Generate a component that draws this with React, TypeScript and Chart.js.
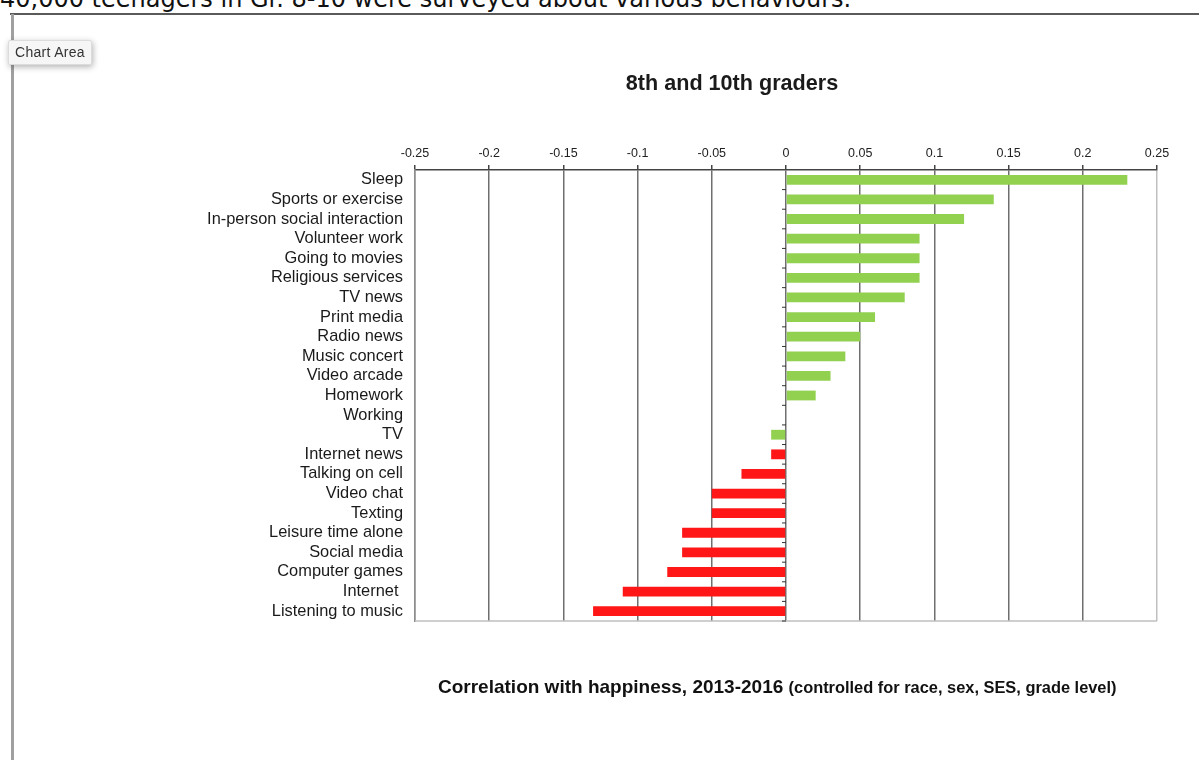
import { useEffect, useRef } from "react";
import { Chart, registerables, type Plugin } from "chart.js";

Chart.register(...registerables);

const activities = [
  "Sleep",
  "Sports or exercise",
  "In-person social interaction",
  "Volunteer work",
  "Going to movies",
  "Religious services",
  "TV news",
  "Print media",
  "Radio news",
  "Music concert",
  "Video arcade",
  "Homework",
  "Working",
  "TV",
  "Internet news",
  "Talking on cell",
  "Video chat",
  "Texting",
  "Leisure time alone",
  "Social media",
  "Computer games",
  "Internet ",
  "Listening to music",
];

const correlations = [
  0.23, 0.14, 0.12, 0.09, 0.09, 0.09, 0.08, 0.06, 0.05, 0.04, 0.03, 0.02, 0,
  -0.01, -0.01, -0.03, -0.05, -0.05, -0.07, -0.07, -0.08, -0.11, -0.13,
];

const xTickValues = [-0.25, -0.2, -0.15, -0.1, -0.05, 0, 0.05, 0.1, 0.15, 0.2, 0.25];

const chartTitle = "8th and 10th graders";
const footerMain = "Correlation with happiness, 2013-2016";
const footerNote = "(controlled for race, sex, SES, grade level)";
const pageText = "40,000 teenagers in Gr. 8-10 were surveyed about various behaviours.";

// bars up to and including "TV" are green, the rest red
const firstRedIndex = activities.indexOf("Internet news");
const GREEN = "#92d050";
const RED = "#ff1616";
const FONT = "'Liberation Sans', Arial, sans-serif";

const framePlugin: Plugin<"bar"> = {
  id: "frameAndFooter",
  afterDraw(chart) {
    const { ctx, chartArea, scales } = chart;
    const xs = scales.x;
    const ys = scales.y;
    ctx.save();

    // bottom edge of the plot
    ctx.strokeStyle = "#bfbfbf";
    ctx.lineWidth = 1.5;
    ctx.beginPath();
    ctx.moveTo(chartArea.left, chartArea.bottom);
    ctx.lineTo(chartArea.right, chartArea.bottom);
    ctx.stroke();

    // small category ticks on the zero line
    const x0 = xs.getPixelForValue(0);
    ctx.strokeStyle = "#333";
    ctx.lineWidth = 1;
    ctx.beginPath();
    for (let i = 1; i < activities.length; i++) {
      const yy = (ys.getPixelForValue(i - 1) + ys.getPixelForValue(i)) / 2;
      ctx.moveTo(x0 - 4, yy);
      ctx.lineTo(x0, yy);
    }
    ctx.moveTo(x0 - 4, chartArea.bottom);
    ctx.lineTo(x0, chartArea.bottom);
    ctx.stroke();

    // title, a little left of the plot centre as in the original
    ctx.fillStyle = "#1a1a1a";
    ctx.textAlign = "center";
    ctx.textBaseline = "alphabetic";
    ctx.font = `bold 21.6px ${FONT}`;
    ctx.fillText(chartTitle, 732, 90);

    // footer caption
    ctx.fillStyle = "#111";
    ctx.textAlign = "left";
    ctx.font = `bold 19px ${FONT}`;
    const fx = 438;
    const fy = 693;
    ctx.fillText(footerMain, fx, fy);
    const w = ctx.measureText(footerMain + " ").width;
    ctx.font = `bold 16.4px ${FONT}`;
    ctx.fillText(footerNote, fx + w, fy);

    ctx.restore();
  },
};

const CorrelationChart = () => {
  const canvasRef = useRef<HTMLCanvasElement>(null);
  const chartInstance = useRef<Chart<"bar">>();

  useEffect(() => {
    if (!canvasRef.current) return;
    const ctx = canvasRef.current.getContext("2d");
    if (!ctx) return;

    if (chartInstance.current) {
      chartInstance.current.destroy();
    }

    const colors = correlations.map((_, i) => (i < firstRedIndex ? GREEN : RED));

    chartInstance.current = new Chart(ctx, {
      type: "bar",
      data: {
        labels: activities,
        datasets: [
          {
            data: correlations,
            backgroundColor: colors,
            borderWidth: 0,
            categoryPercentage: 1,
            barPercentage: 0.5,
          },
        ],
      },
      options: {
        indexAxis: "y",
        responsive: false,
        animation: false,
        events: [],
        layout: { padding: { left: 0, right: 42, top: 140, bottom: 139 } },
        plugins: {
          legend: { display: false },
          tooltip: { enabled: false },
          title: { display: false },
        },
        scales: {
          x: {
            position: "top",
            min: -0.25,
            max: 0.25,
            afterBuildTicks: (scale) => {
              scale.ticks = xTickValues.map((v) => ({ value: v }));
            },
            afterFit: (scale) => {
              scale.height = 30;
            },
            ticks: {
              color: "#222",
              font: { family: FONT, size: 12.5 },
              padding: 4,
              maxRotation: 0,
              callback: (v) => String(Math.round(Number(v) * 100) / 100),
            },
            grid: {
              color: (c) =>
                c.tick && c.tick.value === 0.25
                  ? "#c0c0c0"
                  : c.tick && c.tick.value === -0.25
                    ? "#8c8c8c"
                    : "#6f6f6f",
              lineWidth: 1.5,
              tickLength: 5,
              tickColor: "#444",
            },
            border: { display: true, color: "#444", width: 1.5 },
          },
          y: {
            afterFit: (scale) => {
              scale.width = 415;
            },
            ticks: {
              autoSkip: false,
              color: "#1a1a1a",
              font: { family: FONT, size: 16.4 },
              padding: 12,
            },
            grid: { display: false, drawTicks: false },
            border: { display: true, color: "#8c8c8c", width: 1.5 },
          },
        },
      },
      plugins: [framePlugin],
    });

    return () => {
      if (chartInstance.current) {
        chartInstance.current.destroy();
        chartInstance.current = undefined;
      }
    };
  }, []);

  return (
    <canvas
      ref={canvasRef}
      width={1199}
      height={760}
      style={{ position: "absolute", left: 0, top: 0, display: "block" }}
    ></canvas>
  );
};

const App = () => {
  return (
    <div
      style={{
        position: "fixed",
        left: 0,
        top: 0,
        width: 1199,
        height: 760,
        overflow: "hidden",
        background: "#fff",
      }}
    >
      <div
        style={{
          position: "absolute",
          left: 0,
          top: -15,
          fontFamily: "'DejaVu Sans', sans-serif",
          fontSize: 24,
          lineHeight: "28px",
          color: "#111",
          whiteSpace: "nowrap",
        }}
      >
        {pageText}
      </div>
      <div
        style={{
          position: "absolute",
          left: 10,
          right: 0,
          top: 13,
          borderTop: "2px solid #5a5a5a",
        }}
      />
      <div
        style={{
          position: "absolute",
          left: 11,
          top: 14,
          bottom: 0,
          borderLeft: "3px solid #a0a0a0",
        }}
      />
      <CorrelationChart />
      <div
        style={{
          position: "absolute",
          left: 8,
          top: 40,
          padding: "3px 6px",
          fontFamily: FONT,
          fontSize: 14,
          letterSpacing: "0.3px",
          lineHeight: "17px",
          color: "#333",
          background: "#f6f6f6",
          border: "1px solid #dcdcdc",
          borderRadius: 2,
          boxShadow: "1px 2px 6px rgba(0,0,0,0.3)",
        }}
      >
        Chart Area
      </div>
    </div>
  );
};

export default App;
